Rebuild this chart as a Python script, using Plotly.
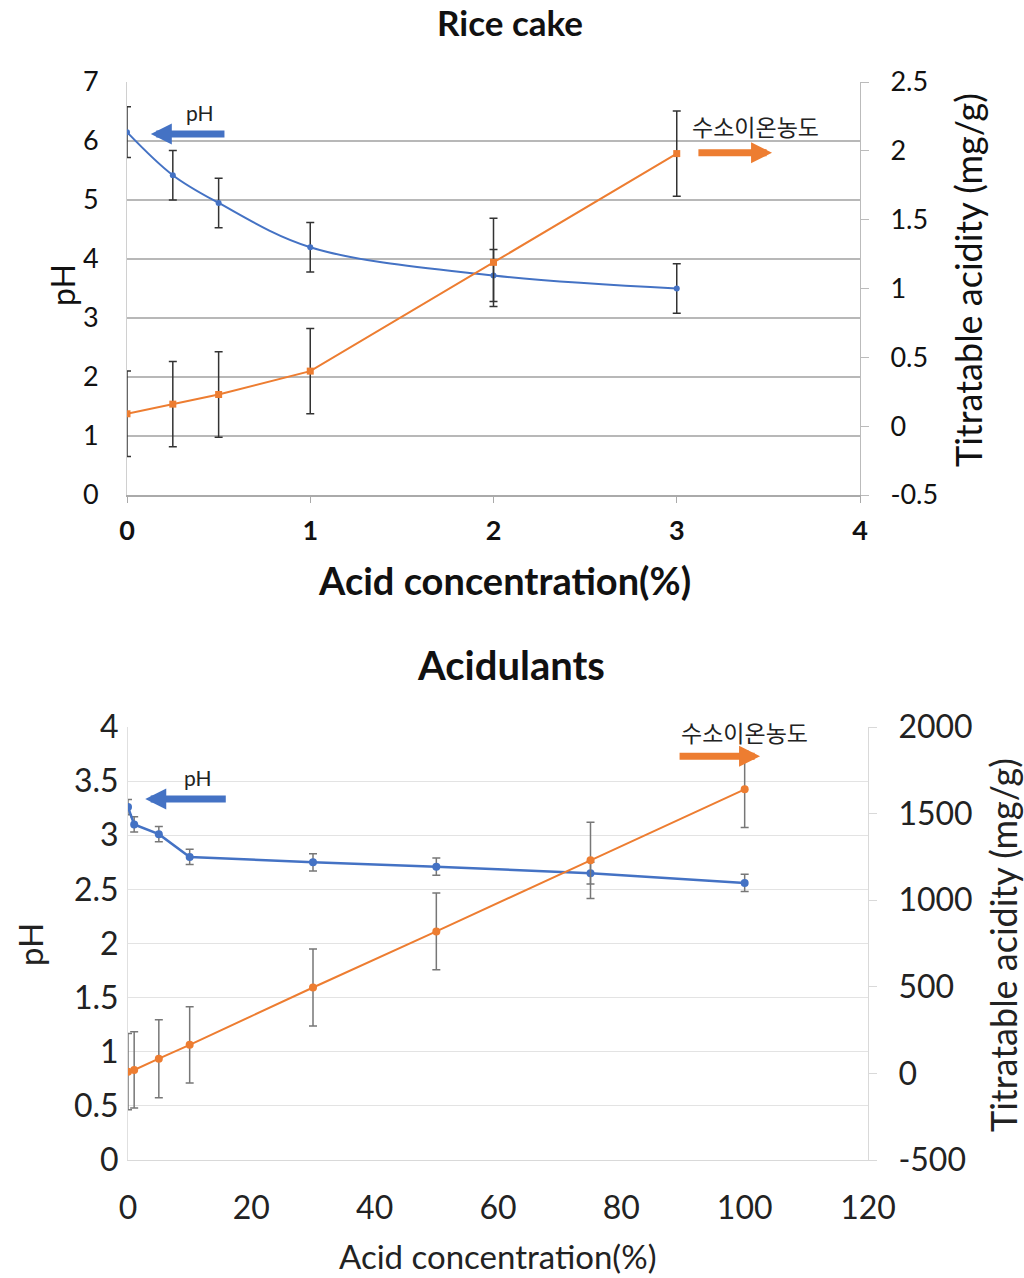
import plotly.graph_objects as go

# ---------------- data ----------------
# Rice cake
rc_x = [0, 0.25, 0.5, 1, 2, 3]
rc_ph = [6.15, 5.42, 4.95, 4.20, 3.72, 3.50]
rc_ph_err = [0.43, 0.42, 0.42, 0.42, 0.44, 0.42]
rc_ta = [0.09, 0.16, 0.23, 0.40, 1.19, 1.98]
rc_ta_err = [0.31, 0.31, 0.31, 0.31, 0.32, 0.31]

# Acidulants
ac_x = [0, 1, 5, 10, 30, 50, 75, 100]
ac_ph = [3.26, 3.10, 3.01, 2.80, 2.75, 2.71, 2.65, 2.56]
ac_ph_err = [0.07, 0.07, 0.07, 0.07, 0.08, 0.08, 0.10, 0.08]
ac_ta = [10, 20, 85, 165, 496, 820, 1230, 1640]
ac_ta_err = [220, 220, 225, 220, 222, 222, 220, 220]

# tick values / labels
rc_x_ticks = [0, 1, 2, 3, 4]
rc_ta_tickvals = [-0.5, 0, 0.5, 1, 1.5, 2, 2.5]
rc_ta_ticktext = ["-0.5", "0", "0.5", "1", "1.5", "2", "2.5"]
ac_x_ticks = [0, 20, 40, 60, 80, 100, 120]
ac_ta_tickvals = [-500, 0, 500, 1000, 1500, 2000]
ac_ta_ticktext = ["-500", "0", "500", "1000", "1500", "2000"]

BLUE = "#4472C4"
ORANGE = "#ED7D31"
FONT = "Lato"
W, H = 1024, 1278


def px(v):
    return v / W


def py(v):
    return 1 - v / H


fig = go.Figure()

# ---- Rice cake ----
fig.add_trace(go.Scatter(
    x=rc_x, y=rc_ph, mode="lines+markers", xaxis="x", yaxis="y",
    line=dict(color=BLUE, width=2, shape="spline"),
    marker=dict(color=BLUE, size=6),
    error_y=dict(type="data", array=rc_ph_err, color="#333333", thickness=1.5, width=4),
    showlegend=False))
fig.add_trace(go.Scatter(
    x=rc_x, y=rc_ta, mode="lines+markers", xaxis="x", yaxis="y2",
    line=dict(color=ORANGE, width=2),
    marker=dict(color=ORANGE, size=7, symbol="square"),
    error_y=dict(type="data", array=rc_ta_err, color="#333333", thickness=1.5, width=4),
    showlegend=False))

# ---- Acidulants ----
fig.add_trace(go.Scatter(
    x=ac_x, y=ac_ph, mode="lines+markers", xaxis="x2", yaxis="y3",
    line=dict(color=BLUE, width=2.5),
    marker=dict(color=BLUE, size=8),
    error_y=dict(type="data", array=ac_ph_err, color="#777777", thickness=1.5, width=4),
    showlegend=False))
fig.add_trace(go.Scatter(
    x=ac_x, y=ac_ta, mode="lines+markers", xaxis="x2", yaxis="y4",
    line=dict(color=ORANGE, width=2),
    marker=dict(color=ORANGE, size=8),
    error_y=dict(type="data", array=ac_ta_err, color="#777777", thickness=1.5, width=4),
    showlegend=False))

tickfont_top = dict(family=FONT, size=27, color="#111111")
tickfont_bot = dict(family=FONT, size=32, color="#222222")

fig.update_layout(
    width=W, height=H, autosize=False,
    margin=dict(l=0, r=0, t=0, b=0, pad=0, autoexpand=False),
    paper_bgcolor="white", plot_bgcolor="white",
    font=dict(family=FONT, color="#111111"),
    xaxis=dict(domain=[px(127), px(860)], anchor="y", range=[0, 4], automargin=False,
               tickvals=rc_x_ticks, ticks="outside", ticklen=6, tickcolor="#aaaaaa",
               showline=True, linecolor="#aaaaaa", linewidth=1.5, showgrid=False,
               zeroline=False, ticklabelstandoff=5,
               tickfont=dict(family=FONT, size=27, color="#111111", weight="bold")),
    yaxis=dict(domain=[py(495), py(82)], anchor="x", range=[0, 7], dtick=1, automargin=False,
               showgrid=True, gridcolor="#b8b8b8", gridwidth=1.5, zeroline=False,
               showline=True, linecolor="#d0d0d0", ticks="", ticklabelstandoff=22,
               tickfont=tickfont_top),
    yaxis2=dict(overlaying="y", side="right", anchor="x", range=[-0.5, 2.5],
                tickvals=rc_ta_tickvals, ticktext=rc_ta_ticktext,
                automargin=False,
                showgrid=False, zeroline=False, showline=True, linecolor="#bbbbbb",
                ticks="outside", ticklen=8, tickcolor="#bbbbbb", ticklabelstandoff=16,
                tickfont=tickfont_top),
    xaxis2=dict(domain=[px(128), px(868)], anchor="y3", range=[0, 120], automargin=False,
                tickvals=ac_x_ticks, ticks="", showline=True, linecolor="#d9d9d9",
                showgrid=False, zeroline=False, ticklabelstandoff=20,
                tickfont=tickfont_bot),
    yaxis3=dict(domain=[py(1160), py(727)], anchor="x2", range=[0, 4], dtick=0.5,
                automargin=False,
                showgrid=True, gridcolor="#e3e3e3", gridwidth=1.2, zeroline=False,
                showline=True, linecolor="#e0e0e0", ticks="", ticklabelstandoff=2,
                tickfont=tickfont_bot),
    yaxis4=dict(overlaying="y3", side="right", anchor="x2", range=[-500, 2000],
                tickvals=ac_ta_tickvals, ticktext=ac_ta_ticktext,
                automargin=False,
                showgrid=False, zeroline=False, showline=True, linecolor="#d9d9d9",
                ticks="outside", ticklen=8, tickcolor="#d9d9d9", ticklabelstandoff=15,
                tickfont=tickfont_bot),
)


def paper_text(text, x, y, size, color="#111111", angle=0):
    return dict(text=text, x=px(x), y=py(y), xref="paper", yref="paper",
                xanchor="center", yanchor="middle", textangle=angle, showarrow=False,
                font=dict(family=FONT, size=size, color=color))


ann = []
# titles
ann.append(paper_text("<b>Rice cake</b>", 510, 22, 35))
ann.append(paper_text("<b>Acidulants</b>", 511, 665, 40))
# axis titles top
ann.append(paper_text("<b>Acid concentration(%)</b>", 504, 580, 38))
ann.append(paper_text("pH", 62, 285, 32, angle=-90))
ann.append(paper_text("Titratable acidity (mg/g)", 968, 280, 36, angle=-90))
# axis titles bottom
ann.append(paper_text("Acid concentration(%)", 497, 1256, 33, color="#222222"))
ann.append(paper_text("pH", 30, 945, 33, color="#222222", angle=-90))
ann.append(paper_text("Titratable acidity (mg/g)", 1003, 945, 36, color="#222222", angle=-90))

# in-plot labels and arrows (top)
ann.append(dict(text="pH", x=0.40, y=6.48, xref="x", yref="y", showarrow=False,
                font=dict(family=FONT, size=21, color="#222222")))
ann.append(dict(text="", x=0.13, y=6.12, ax=0.54, ay=6.12, xref="x", yref="y", axref="x", ayref="y",
                showarrow=True, arrowhead=2, arrowsize=0.6, arrowwidth=7, arrowcolor=BLUE))
ann.append(dict(text="수소이온농도", x=3.43, y=6.25, xref="x", yref="y", showarrow=False,
                font=dict(family="Noto Sans CJK KR", size=23, color="#222222")))
ann.append(dict(text="", x=3.52, y=5.8, ax=3.11, ay=5.8, xref="x", yref="y", axref="x", ayref="y",
                showarrow=True, arrowhead=2, arrowsize=0.6, arrowwidth=7, arrowcolor=ORANGE))
# in-plot labels and arrows (bottom)
ann.append(dict(text="pH", x=11.4, y=3.53, xref="x2", yref="y3", showarrow=False,
                font=dict(family=FONT, size=21, color="#222222")))
ann.append(dict(text="", x=2.8, y=3.335, ax=16.1, ay=3.335, xref="x2", yref="y3", axref="x2", ayref="y3",
                showarrow=True, arrowhead=2, arrowsize=0.6, arrowwidth=7, arrowcolor=BLUE))
ann.append(dict(text="수소이온농도", x=100.0, y=3.95, xref="x2", yref="y3", showarrow=False,
                font=dict(family="Noto Sans CJK KR", size=23, color="#222222")))
ann.append(dict(text="", x=102.5, y=3.73, ax=89.2, ay=3.73, xref="x2", yref="y3", axref="x2", ayref="y3",
                showarrow=True, arrowhead=2, arrowsize=0.6, arrowwidth=7, arrowcolor=ORANGE))

fig.update_layout(annotations=ann)
fig.write_html("out.html")
